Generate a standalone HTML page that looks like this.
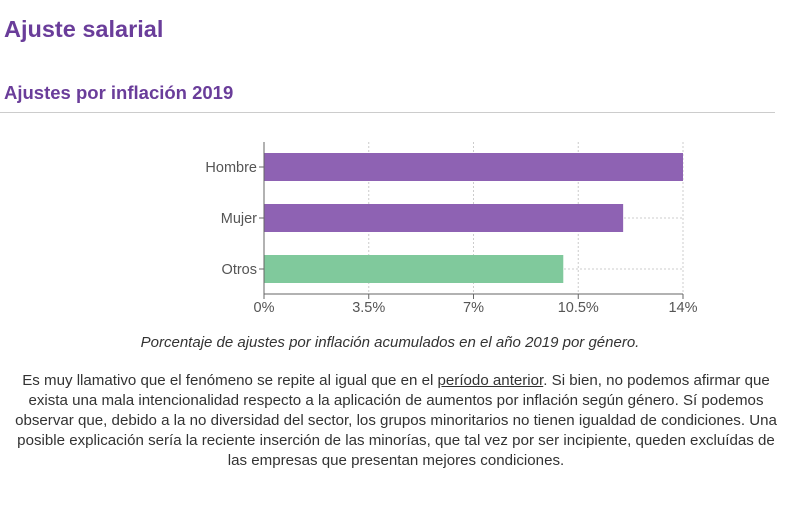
<!DOCTYPE html>
<html><head><meta charset="utf-8"><style>
body{margin:0;width:800px;height:508px;background:#fff;font-family:"Liberation Sans","DejaVu Sans",sans-serif;color:#333;position:relative;overflow:hidden}
h1{position:absolute;left:4px;top:16px;margin:0;font-size:23.5px;font-weight:bold;color:#6a3d9a}
h2{position:absolute;left:4px;top:82px;margin:0;font-size:18.5px;font-weight:bold;color:#6a3d9a}
.hr{position:absolute;left:0;top:112px;width:775px;height:1px;background:#ccc}
.cap{position:absolute;left:0;width:780px;top:334px;text-align:center;font-style:italic;font-size:15px;color:#333}
.par{position:absolute;left:0;width:792px;top:371px;text-align:center;font-size:15.1px;line-height:20px;color:#333;white-space:nowrap}
.par a{color:#333;text-decoration:underline}
svg{position:absolute;left:0;top:0}
</style></head><body>
<h1>Ajuste salarial</h1>
<h2>Ajustes por inflación 2019</h2>
<div class="hr"></div>
<svg id="chart" width="800" height="330"></svg>
<div class="cap">Porcentaje de ajustes por inflación acumulados en el año 2019 por género.</div>
<div class="par">Es muy llamativo que el fenómeno se repite al igual que en el <a href="#">período anterior</a>. Si bien, no podemos afirmar que<br>exista una mala intencionalidad respecto a la aplicación de aumentos por inflación según género. Sí podemos<br>observar que, debido a la no diversidad del sector, los grupos minoritarios no tienen igualdad de condiciones. Una<br>posible explicación sería la reciente inserción de las minorías, que tal vez por ser incipiente, queden excluídas de<br>las empresas que presentan mejores condiciones.</div>
<script>
const categories=["Hombre","Mujer","Otros"];
const values=[14,12,10];
const colors=["#8e62b3","#8e62b3","#80c99c"];
const ticks=[0,3.5,7,10.5,14];
const tickLabels=["0%","3.5%","7%","10.5%","14%"];
const NS="http://www.w3.org/2000/svg";
const svg=document.getElementById('chart');
const x0=264,x1=683,plotTop=142,axisY=294;
const xs=v=>x0+(v-0)/(14-0)*(x1-x0);
const ys=i=>167+i*51;
function mk(t,a){const e=document.createElementNS(NS,t);for(const k in a)e.setAttribute(k,a[k]);svg.appendChild(e);return e;}
ticks.forEach((t,i)=>{
 const g=mk('line',{x1:xs(t),x2:xs(t),y1:plotTop,y2:axisY,stroke:'#ccc','stroke-dasharray':'2,2'});
 
 
 const tk=mk('line',{x1:xs(t),x2:xs(t),y1:axisY,y2:axisY+5,stroke:'#666'});
 
 
 const tx=mk('text',{x:xs(t),y:axisY+18,'text-anchor':'middle','font-size':'14.5',fill:'#555'});
 tx.textContent=tickLabels[i];
 
 
});
categories.forEach((c,i)=>{
 const g=mk('line',{x1:x0,x2:x1,y1:ys(i),y2:ys(i),stroke:'#ccc','stroke-dasharray':'2,2'});
 
 
 const r=mk('rect',{x:x0,y:ys(i)-14,width:xs(values[i])-x0,height:28,fill:colors[i]});
 
 
 const tk=mk('line',{x1:x0-5,x2:x0,y1:ys(i),y2:ys(i),stroke:'#666'});
 
 
 const tx=mk('text',{x:x0-7,y:ys(i)+5,'text-anchor':'end','font-size':'14.5',fill:'#555'});
 tx.textContent=c;
 
 
});
const ya=mk('line',{x1:x0,x2:x0,y1:plotTop,y2:axisY,stroke:'#666'});


const xa=mk('line',{x1:x0,x2:x1,y1:axisY,y2:axisY,stroke:'#666'});


</script>
</body></html>
